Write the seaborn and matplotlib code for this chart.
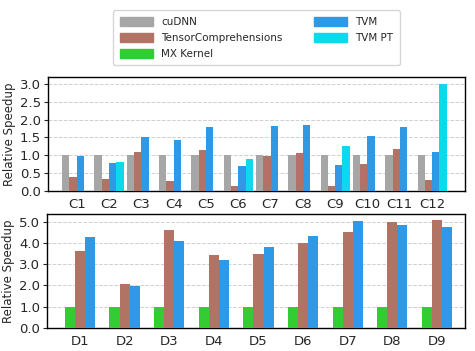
import matplotlib
matplotlib.use("Agg")
import matplotlib.pyplot as plt
import seaborn as sns
import pandas as pd
import numpy as np

conv_labels = ["C1", "C2", "C3", "C4", "C5", "C6", "C7", "C8", "C9", "C10", "C11", "C12"]
conv_cudnn = [1.0, 1.0, 1.0, 1.0, 1.0, 1.0, 1.0, 1.0, 1.0, 1.0, 1.0, 1.0]
conv_tc = [0.40, 0.35, 1.09, 0.29, 1.15, 0.15, 0.98, 1.06, 0.15, 0.76, 1.17, 0.32]
conv_tvm = [0.98, 0.79, 1.51, 1.43, 1.79, 0.70, 1.81, 1.84, 0.73, 1.54, 1.79, 1.09]
conv_tvm_pt = [np.nan, 0.81, np.nan, np.nan, np.nan, 0.90, np.nan, np.nan, 1.25, np.nan, np.nan, 2.98]

dw_labels = ["D1", "D2", "D3", "D4", "D5", "D6", "D7", "D8", "D9"]
dw_mx = [1.0, 1.0, 1.0, 1.0, 1.0, 1.0, 1.0, 1.0, 1.0]
dw_tc = [3.60, 2.05, 4.60, 3.45, 3.50, 4.02, 4.50, 4.97, 5.07]
dw_tvm = [4.30, 1.95, 4.08, 3.18, 3.80, 4.35, 5.02, 4.87, 4.73]

colors = {
    "cuDNN": "#a6a6a6",
    "TensorComprehensions": "#b07364",
    "MX Kernel": "#33cc33",
    "TVM": "#2e99e6",
    "TVM PT": "#0ed8ec",
}

top_df = pd.DataFrame({
    "layer": conv_labels * 4,
    "method": ["cuDNN"] * 12 + ["TensorComprehensions"] * 12 + ["TVM"] * 12 + ["TVM PT"] * 12,
    "speedup": conv_cudnn + conv_tc + conv_tvm + conv_tvm_pt,
})
bot_df = pd.DataFrame({
    "layer": dw_labels * 3,
    "method": ["MX Kernel"] * 9 + ["TensorComprehensions"] * 9 + ["TVM"] * 9,
    "speedup": dw_mx + dw_tc + dw_tvm,
})

sns.set_style("ticks")
plt.rcParams["font.family"] = ["DejaVu Sans"]

fig = plt.figure(figsize=(4.75, 3.51), dpi=100)
ax1 = fig.add_axes([0.101, 0.455, 0.878, 0.325])
ax2 = fig.add_axes([0.099, 0.066, 0.880, 0.324])

top_order = ["cuDNN", "TensorComprehensions", "TVM", "TVM PT"]
sns.barplot(data=top_df, x="layer", y="speedup", hue="method", hue_order=top_order,
            palette=colors, width=0.9, ax=ax1, legend=False, saturation=1,
            linewidth=0, edgecolor="none", zorder=3)
bot_order = ["MX Kernel", "TensorComprehensions", "TVM"]
sns.barplot(data=bot_df, x="layer", y="speedup", hue="method", hue_order=bot_order,
            palette=colors, width=0.68, ax=ax2, legend=False, saturation=1,
            linewidth=0, edgecolor="none", zorder=3)

ax1.set_ylim(0, 3.18)
ax1.set_yticks([0.0, 0.5, 1.0, 1.5, 2.0, 2.5, 3.0])
ax1.set_yticklabels(["0.0", "0.5", "1.0", "1.5", "2.0", "2.5", "3.0"])
ax1.set_xlim(-0.89, 12.02)
ax2.set_ylim(0, 5.36)
ax2.set_yticks([0, 1, 2, 3, 4, 5])
ax2.set_yticklabels(["0.0", "1.0", "2.0", "3.0", "4.0", "5.0"])
ax2.set_xlim(-0.74, 8.63)

for ax in (ax1, ax2):
    ax.set_xlabel("")
    ax.set_ylabel("Relative Speedup", fontsize=8.5, labelpad=3)
    ax.yaxis.grid(True, linestyle="--", color="#d0d0d0", linewidth=0.7, zorder=0)
    ax.set_axisbelow(True)
    ax.tick_params(axis="x", length=0, labelsize=9.5, pad=5)
    ax.tick_params(axis="y", length=3, labelsize=9.5, pad=2)
    for s in ax.spines.values():
        s.set_visible(True)
        s.set_color("black")
        s.set_linewidth(1.0)

legend_order = ["cuDNN", "TensorComprehensions", "MX Kernel", "TVM", "TVM PT"]
handles = [plt.Rectangle((0, 0), 1, 1, color=colors[m]) for m in legend_order]
fig.legend(handles, legend_order, loc="upper center", bbox_to_anchor=(0.54, 0.985),
           ncol=2, fontsize=7.5, frameon=True, handlelength=3.2, handleheight=1.0,
           columnspacing=3.0, borderpad=0.6, labelspacing=0.55, edgecolor="#cccccc")

fig.savefig("out.png", dpi=100)
